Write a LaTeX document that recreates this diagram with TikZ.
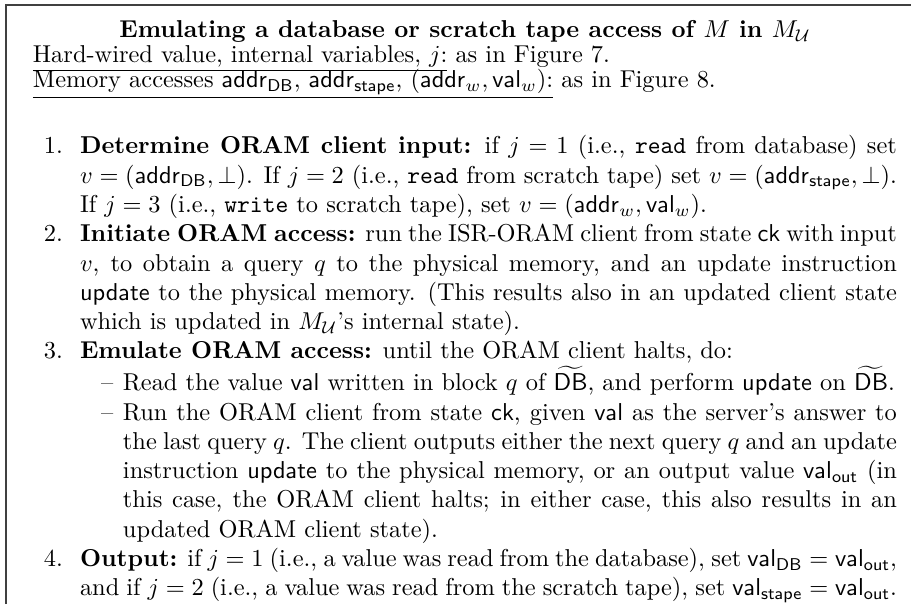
\documentclass[tikz,border=0pt]{standalone}
\usepackage{amsmath,amssymb}
\usepackage{enumitem}
\newcommand{\sv}[1]{\mathsf{#1}}
\newcommand{\MU}{M_{\mathcal{U}}}
\tikzset{
	txt/.style={inner sep=0pt, outer sep=0pt},
	frameline/.style={line width=0.5pt, draw=black!75}
}

\begin{document}
\begin{tikzpicture}[x=1pt, y=1pt]
			%%%%% START %%%%%
			\useasboundingbox (0, 0) rectangle (377.05, -247.54);
			
			% frame (top and left edges)
			\draw[frameline] (2.46, -247.54) -- (2.46, -2.05) -- (373.4, -2.05);
			
			% heading
			\node[txt, anchor=base] (title) at (190.6, -15.4) {\bfseries Emulating a database or scratch tape access of $M$ in $\MU$};
			\node[txt, anchor=base west] (hdrA) at (13.5, -25.6) {\underline{Hard-wired value, internal variables, $j$:} as in Figure 7.};
			\node[txt, anchor=base west] (hdrB) at (13.5, -35.8) {\underline{Memory accesses $\sv{addr}_{\sv{DB}}$, $\sv{addr}_{\sv{stape}}$, $(\sv{addr}_w,\sv{val}_w)$:} as in Figure 8.};
			
			% steps
			\node[txt, anchor=north west, text width=354.1pt, align=justify] (steps) at (13.5, -51.1) {%
				\begin{enumerate}[label=\arabic*., leftmargin=19.3pt, labelsep=7pt, itemsep=0pt, parsep=0pt, topsep=0pt, partopsep=0pt]
					\item \textbf{Determine ORAM client input:} if $j=1$ (i.e., \texttt{read} from database) set\linebreak $v=(\sv{addr}_{\sv{DB}},\bot)$. If $j=2$ (i.e., \texttt{read} from scratch tape) set $v=(\sv{addr}_{\sv{stape}},\bot)$.\linebreak If $j=3$ (i.e., \texttt{write} to scratch tape), set $v=(\sv{addr}_w,\sv{val}_w)$.
					\item \textbf{Initiate ORAM access:} run the ISR-ORAM client from state $\sv{ck}$ with input\linebreak $v$, to obtain a query $q$ to the physical memory, and an update instruction\linebreak $\sv{update}$ to the physical memory. (This results also in an updated client state\linebreak which is updated in $\MU$'s internal state).
					\item \textbf{Emulate ORAM access:} until the ORAM client halts, do:
					\begin{itemize}[label=\textendash, leftmargin=17.6pt, labelsep=4pt, itemsep=0pt, parsep=0pt, topsep=0pt, partopsep=0pt]
						\item Read the value $\sv{val}$ written in block $q$ of $\widetilde{\sv{DB}}$, and perform $\sv{update}$ on $\widetilde{\sv{DB}}$.
						\item Run the ORAM client from state $\sv{ck}$, given $\sv{val}$ as the server's answer to\linebreak the last query $q$. The client outputs either the next query $q$ and an update\linebreak instruction $\sv{update}$ to the physical memory, or an output value $\sv{val}_{\sv{out}}$ (in\linebreak this case, the ORAM client halts; in either case, this also results in an\linebreak updated ORAM client state).
					\end{itemize}
					\item \textbf{Output:} if $j=1$ (i.e., a value was read from the database), set $\sv{val}_{\sv{DB}}=\sv{val}_{\sv{out}}$,\linebreak and if $j=2$ (i.e., a value was read from the scratch tape), set $\sv{val}_{\sv{stape}}=\sv{val}_{\sv{out}}$.
				\end{enumerate}};
			%%%%% END %%%%%
		\end{tikzpicture}
\end{document}
